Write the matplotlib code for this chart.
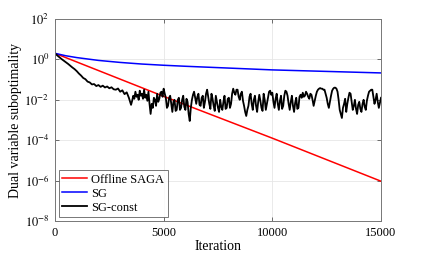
import numpy as np
import matplotlib
matplotlib.use("Agg")
from matplotlib import pyplot as plt
from matplotlib.ticker import FixedLocator, FuncFormatter

# 数据（纵轴为 log10 值）
saga_iter = [0, 5000, 10000, 15000]
saga_log10 = [0.30, -1.83, -3.90, -6.03]

sg_iter = [0, 500, 1000, 1500, 2000, 3000, 4000, 5000, 6000, 8000, 10000, 12000, 15000]
sg_log10 = [0.30, 0.18, 0.09, 0.02, -0.05, -0.15, -0.23, -0.29, -0.34, -0.43, -0.52, -0.58, -0.67]

# SG-const 前段: 0..3400, 每 100 次迭代一个点
sgc_head_step = 100
sgc_head_log10 = [
    0.30, 0.20, 0.11, 0.02, -0.06, -0.14, -0.22, -0.31, -0.40, -0.48,
    -0.58, -0.70, -0.80, -0.92, -0.98, -1.10, -1.14, -1.24, -1.22, -1.32,
    -1.27, -1.36, -1.30, -1.39, -1.34, -1.43, -1.38, -1.48, -1.50, -1.44,
    -1.60, -1.53, -1.72, -1.63, -1.90,
]
# SG-const 后段: 3500..15000, 每 50 次迭代一个点
sgc_tail_start = 3500
sgc_tail_step = 50
sgc_tail_log10 = [
    -2.25, -2.05, -1.80, -1.95, -1.60, -1.85, -1.75, -2.00, -1.55, -1.80,
    -1.70, -1.95, -1.50, -1.90, -1.75, -2.05, -1.60, -2.20, -2.70, -2.20,
    -2.40, -1.90, -2.00, -2.30, -1.70, -2.10, -1.95, -1.65, -1.60, -1.85,
    -1.45, -1.70, -1.90, -2.40, -2.30, -1.90, -1.80, -2.20, -2.60, -2.10,
    -2.00, -2.55, -2.50, -2.00, -1.90, -2.50, -2.40, -2.00, -1.80, -2.35,
    -2.50, -1.95, -2.10, -2.70, -3.05, -2.40, -2.00, -1.75, -1.60, -1.90,
    -2.20, -1.85, -1.70, -2.25, -2.30, -1.90, -1.80, -2.40, -2.10, -1.70,
    -1.50, -1.85, -2.20, -2.45, -1.70, -1.95, -2.30, -2.55, -1.80, -2.10,
    -2.40, -2.60, -2.00, -2.35, -2.50, -2.10, -1.80, -2.45, -2.40, -1.95,
    -1.90, -2.40, -2.20, -1.70, -1.45, -1.65, -1.75, -1.50, -1.50, -1.85,
    -2.00, -1.70, -1.60, -2.05, -2.30, -2.60, -2.80, -2.50, -2.30, -1.85,
    -1.70, -2.20, -2.50, -2.00, -1.80, -2.30, -2.60, -2.10, -1.75, -2.05,
    -2.40, -2.55, -1.70, -2.00, -2.50, -2.20, -1.90, -1.60, -1.55, -1.75,
    -1.65, -2.10, -2.40, -1.95, -1.70, -2.20, -2.50, -2.05, -1.80, -2.45,
    -2.30, -1.80, -1.55, -1.60, -1.80, -2.20, -2.50, -2.10, -1.80, -2.30,
    -2.60, -2.15, -1.90, -2.45, -2.40, -1.85, -1.75, -1.90, -1.65, -1.85,
    -1.80, -1.60, -1.70, -1.85, -1.95, -1.70, -1.75, -2.00, -2.30, -2.05,
    -1.80, -1.60, -1.50, -1.45, -1.42, -1.45, -1.45, -1.50, -1.50, -1.70,
    -1.90, -2.20, -2.40, -2.10, -1.80, -1.55, -1.45, -1.40, -1.40, -1.45,
    -1.60, -2.00, -2.50, -2.70, -2.90, -2.40, -2.20, -1.95, -2.60, -2.20,
    -1.90, -1.65, -1.70, -2.10, -2.50, -2.30, -2.00, -2.45, -2.70, -2.25,
    -2.10, -2.45, -2.60, -2.20, -2.00, -2.35, -2.50, -2.05, -1.80, -1.60,
    -1.55, -1.50, -1.50, -1.85, -2.20, -2.00, -1.70, -2.10, -2.40, -2.15,
    -1.90,
]
sgc_iter = np.concatenate([
    np.arange(len(sgc_head_log10)) * sgc_head_step,
    sgc_tail_start + np.arange(len(sgc_tail_log10)) * sgc_tail_step,
])
sgc_log10 = np.array(sgc_head_log10 + sgc_tail_log10)

x_ticks = [0, 5000, 10000, 15000]
y_ticks = [1e-8, 1e-6, 1e-4, 1e-2, 1e0, 1e2]

plt.rcParams['font.family'] = ['Liberation Serif', 'DejaVu Serif']
plt.rcParams['mathtext.fontset'] = 'stix'

fig = plt.figure(figsize=(4.21, 2.56), dpi=100)
ax = fig.add_axes([0.1306, 0.1367, 0.7744, 0.7891])

ax.plot(saga_iter, 10.0 ** np.array(saga_log10), color='#ff0000', lw=1.1, label='Offline SAGA')
ax.plot(sg_iter, 10.0 ** np.array(sg_log10), color='#0000ff', lw=1.1, label='SG')
ax.plot(sgc_iter, 10.0 ** sgc_log10, color='black', lw=1.3, label='SG-const')

ax.set_yscale('log')
ax.set_xlim(0, 15000)
ax.set_ylim(1e-8, 1e2)
ax.xaxis.set_major_locator(FixedLocator(x_ticks))
ax.yaxis.set_major_locator(FixedLocator(y_ticks))
ax.yaxis.set_minor_locator(FixedLocator([]))
ax.xaxis.set_major_formatter(FuncFormatter(lambda v, p: '%d' % v))
ax.yaxis.set_major_formatter(FuncFormatter(lambda v, p: r'$10^{%d}$' % round(np.log10(v))))

ax.grid(True, color='#e6e6e6', lw=0.6)
ax.set_axisbelow(True)
ax.tick_params(direction='in', top=True, right=True, length=3, width=0.6,
               color='#555555', labelsize=9, pad=4)
for s in ax.spines.values():
    s.set_color('#777777')
    s.set_linewidth(0.7)

ax.set_xlabel('Iteration', fontsize=10, labelpad=1)
ax.set_ylabel('Dual variable suboptimality', fontsize=10, labelpad=2)

leg = ax.legend(loc='lower left', fontsize=9, frameon=True, fancybox=False,
                handlelength=2.0, handletextpad=0.3, borderpad=0.3,
                labelspacing=0.15, borderaxespad=0.3)
leg.get_frame().set_edgecolor('#555555')
leg.get_frame().set_linewidth(0.7)

fig.savefig('out.png', dpi=100)
